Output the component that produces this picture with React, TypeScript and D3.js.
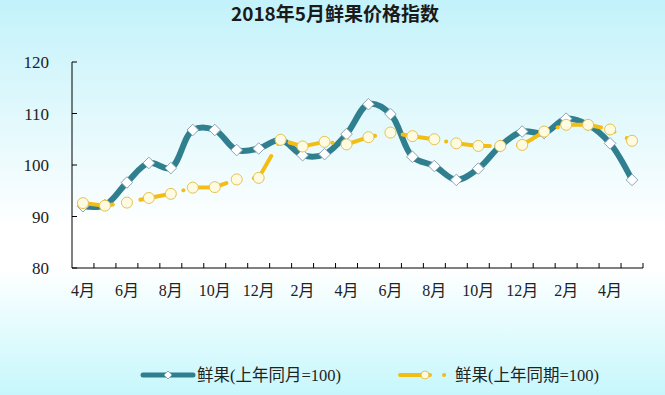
import { useMemo } from "react";
import * as d3 from "d3";

// 2016-04 ... 2018-05
const months = [
  "4月", "5月", "6月", "7月", "8月", "9月", "10月", "11月", "12月", "1月", "2月", "3月",
  "4月", "5月", "6月", "7月", "8月", "9月", "10月", "11月", "12月", "1月", "2月", "3月",
  "4月", "5月",
];

// 鲜果(上年同月=100)
const yoyMonth = [
  92.0, 92.2, 96.6, 100.4, 99.4, 106.8, 106.8, 102.9, 103.2, 104.9, 101.9, 102.1, 106.0,
  111.8, 109.9, 101.6, 99.8, 97.1, 99.3, 103.7, 106.5, 106.2, 109.0, 107.8, 104.2, 97.1,
];

// 鲜果(上年同期=100)
const yoyPeriod = [
  92.6, 92.1, 92.7, 93.6, 94.4, 95.6, 95.7, 97.2, 97.5, 104.9, 103.6, 104.5, 104.0,
  105.4, 106.3, 105.6, 105.0, 104.2, 103.7, 103.7, 103.9, 106.5, 107.8, 107.8, 106.9, 104.7,
];

const yTicks = [80, 90, 100, 110, 120];

const TEAL = "#2f7f8f";
const GOLD = "#f3bd14";
const serif = "'Liberation Serif', 'Noto Sans CJK SC', serif";

export default function App() {
  const W = 665;
  const H = 395;
  const plot = { left: 72, right: 643, top: 62, bottom: 268 };

  const idx = months.map((_, i) => i);
  const x = useMemo(
    () => d3.scaleBand<number>().domain(idx).range([plot.left, plot.right]).padding(0),
    [],
  );
  const y = d3.scaleLinear().domain([80, 120]).range([plot.bottom, plot.top]);
  const cx = (i: number) => (x(i) ?? 0) + x.bandwidth() / 2;

  const tealPath =
    d3
      .line<number>()
      .x((_, i) => cx(i))
      .y((d) => y(d))
      .curve(d3.curveCatmullRom.alpha(0.5))(yoyMonth) || "";

  const goldPath =
    d3
      .line<number>()
      .x((_, i) => cx(i))
      .y((d) => y(d))(yoyPeriod) || "";

  const dash = "30 14 0.1 14";
  const diamond = (px: number, py: number, s = 5.8) =>
    `M${px},${py - s}L${px + s},${py}L${px},${py + s}L${px - s},${py}Z`;

  return (
    <div style={{ position: "fixed", left: 0, top: 0 }}>
      <svg width={W} height={H} style={{ display: "block" }}>
        <defs>
          <linearGradient id="bg" x1="0" y1="0" x2="0" y2="1">
            <stop offset="0%" stopColor="#c3f2fa" />
            <stop offset="58%" stopColor="#ffffff" />
            <stop offset="68%" stopColor="#ffffff" />
            <stop offset="100%" stopColor="#c6f7fc" />
          </linearGradient>
        </defs>
        <rect width={W} height={H} fill="url(#bg)" />

        <text
          x={335}
          y={21}
          textAnchor="middle"
          fontFamily="'Noto Sans CJK SC', sans-serif"
          fontWeight="bold"
          fontSize={19}
          fill="#1a1a1a"
        >
          2018年5月鲜果价格指数
        </text>

        {/* axes */}
        <line x1={plot.left} x2={plot.left} y1={plot.top} y2={plot.bottom} stroke="#000" />
        <line x1={plot.left} x2={plot.right} y1={plot.bottom} y2={plot.bottom} stroke="#000" />
        {yTicks.map((t) => (
          <g key={t}>
            <line x1={plot.left} x2={plot.left + 5} y1={y(t)} y2={y(t)} stroke="#000" />
            <text
              x={49}
              y={y(t) + 6}
              textAnchor="end"
              fontFamily={serif}
              fontSize={17}
              fill="#222"
            >
              {t}
            </text>
          </g>
        ))}
        {idx.map((i) => (
          <line
            key={i}
            x1={(x(i) ?? 0) + x.bandwidth()}
            x2={(x(i) ?? 0) + x.bandwidth()}
            y1={plot.bottom}
            y2={plot.bottom - 5}
            stroke="#000"
          />
        ))}
        {idx
          .filter((i) => i % 2 === 0)
          .map((i) => (
            <text
              key={i}
              x={cx(i)}
              y={plot.bottom + 28}
              textAnchor="middle"
              fontFamily={serif}
              fontSize={16}
              fill="#222"
            >
              {months[i]}
            </text>
          ))}

        {/* teal series */}
        <path d={tealPath} fill="none" stroke={TEAL} strokeWidth={6} strokeLinejoin="round" />
        {yoyMonth.map((v, i) => (
          <path key={i} d={diamond(cx(i), y(v))} fill="#fff" stroke="#8aa6b4" strokeWidth={1} />
        ))}

        {/* gold series */}
        <path
          d={goldPath}
          fill="none"
          stroke={GOLD}
          strokeWidth={4}
          strokeDasharray={dash}
          strokeLinecap="round"
        />
        {yoyPeriod.map((v, i) => (
          <circle key={i} cx={cx(i)} cy={y(v)} r={5.5} fill="#fffbe0" stroke="#e6c24e" strokeWidth={1} />
        ))}

        {/* legend */}
        <line x1={143} x2={193} y1={375} y2={375} stroke={TEAL} strokeWidth={5} strokeLinecap="round" />
        <path d={diamond(168, 375, 4)} fill="#fff" stroke="#8aa6b4" />
        <text x={197} y={381} fontFamily={serif} fontSize={16.5} fill="#222">
          鲜果(上年同月=100)
        </text>
        <line
          x1={400}
          x2={450}
          y1={375}
          y2={375}
          stroke={GOLD}
          strokeWidth={4}
          strokeDasharray={dash}
          strokeLinecap="round"
        />
        <circle cx={425} cy={375} r={4} fill="#fffbe0" stroke="#e6c24e" />
        <text x={455} y={381} fontFamily={serif} fontSize={16.5} fill="#222">
          鲜果(上年同期=100)
        </text>
      </svg>
    </div>
  );
}
